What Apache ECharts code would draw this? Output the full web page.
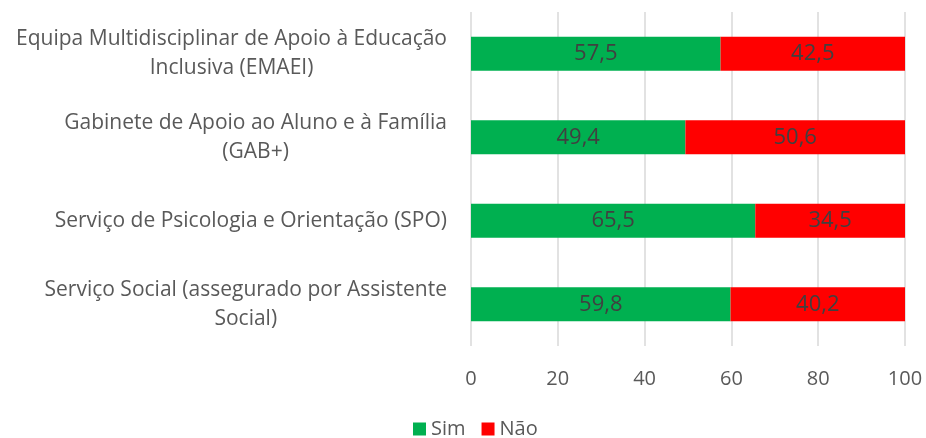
<!DOCTYPE html>
<html>
<head>
<meta charset="utf-8">
<script src="https://cdn.jsdelivr.net/npm/echarts@6/dist/echarts.min.js"></script>
<style>html,body{margin:0;padding:0;background:#fff}#c{width:926px;height:438px}</style>
</head>
<body>
<div id="c"></div>
<script>
const categories = [
  "Equipa Multidisciplinar de Apoio à Educação\nInclusiva (EMAEI)",
  "Gabinete de Apoio ao Aluno e à Família\n(GAB+)",
  "Serviço de Psicologia e Orientação (SPO)",
  "Serviço Social (assegurado por Assistente\nSocial)"
];
const simValues = [57.5, 49.4, 65.5, 59.8];
const naoValues = [42.5, 50.6, 34.5, 40.2];
const xTicks = [0, 20, 40, 60, 80, 100];

const FONT = "Open Sans";
const chart = echarts.init(document.getElementById('c'), null, {renderer: 'canvas'});
const fmt = v => String(v).replace('.', ',');
chart.setOption({
  animation: false,
  textStyle: {fontFamily: FONT},
  grid: {left: 471, right: 21, top: 12, bottom: 92, containLabel: false},
  legend: {
    top: 419, left: 413, itemWidth: 13, itemHeight: 13, itemGap: 16,
    icon: 'rect', padding: 0,
    textStyle: {fontFamily: FONT, fontSize: 20, color: '#595959'},
    data: ['Sim', 'Não']
  },
  xAxis: {
    type: 'value', min: xTicks[0], max: xTicks[xTicks.length - 1], interval: 20,
    axisLine: {show: false}, axisTick: {show: false},
    splitLine: {lineStyle: {color: '#d9d9d9', width: 1.5}},
    axisLabel: {fontFamily: FONT, fontSize: 20, color: '#595959', margin: 23}
  },
  yAxis: {
    type: 'category', inverse: true, data: categories,
    axisLine: {show: false}, axisTick: {show: false},
    axisLabel: {
      margin: 24, fontFamily: FONT, fontSize: 21, color: '#595959', lineHeight: 29,
      formatter: v => v.split('\n').map(l => '{c|' + l + '}').join('\n'),
      rich: {c: {align: 'center', fontFamily: FONT, fontSize: 21, color: '#595959', lineHeight: 29}}
    }
  },
  series: [
    {
      name: 'Sim', type: 'bar', stack: 'a', data: simValues, barWidth: 34,
      itemStyle: {color: '#00b050'},
      label: {show: true, position: 'inside', formatter: p => fmt(p.value), color: '#404040', fontSize: 22, fontFamily: FONT}
    },
    {
      name: 'Não', type: 'bar', stack: 'a', data: naoValues, barWidth: 34,
      itemStyle: {color: '#ff0000'},
      label: {show: true, position: 'inside', formatter: p => fmt(p.value), color: '#404040', fontSize: 22, fontFamily: FONT}
    }
  ]
});
</script>
</body>
</html>
